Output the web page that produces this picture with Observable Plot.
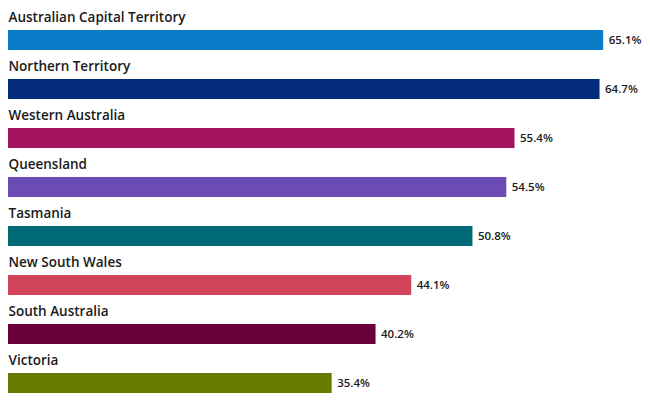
<!DOCTYPE html>
<html>
<head>
<meta charset="utf-8">
<script src="https://cdn.jsdelivr.net/npm/d3@7"></script>
<script src="https://cdn.jsdelivr.net/npm/@observablehq/plot@0.6"></script>
<style>
  html, body { margin: 0; padding: 0; background: #fff; }
  #chart svg { display: block; }
</style>
</head>
<body>
<div id="chart"></div>
<script>
const states = ["Australian Capital Territory", "Northern Territory", "Western Australia", "Queensland", "Tasmania", "New South Wales", "South Australia", "Victoria"];
const values = [65.1, 64.7, 55.4, 54.5, 50.8, 44.1, 40.2, 35.4];
const colors = ["#0a7dc9", "#022b7c", "#a4135f", "#6a4cb4", "#006b74", "#d1445a", "#690039", "#697a00"];

const data = states.map((s, i) => ({state: s, value: values[i], color: colors[i]}));

const chart = Plot.plot({
  width: 650,
  height: 406,
  marginLeft: 8,
  marginRight: 2,
  marginTop: 0,
  marginBottom: 0,
  style: {fontFamily: "Open Sans, sans-serif", color: "#1a1a1a"},
  x: {domain: [0, 70], range: [8, 648], axis: null},
  y: {type: "band", domain: states, range: [28, 395], paddingInner: 0.6, paddingOuter: 0, axis: null},
  marks: [
    Plot.barX(data, {x: "value", y: "state", fill: "color"}),
    Plot.text(data, {x: 0, y: "state", text: "state", textAnchor: "start", dy: -22.5, fontSize: 13.5, fontWeight: 600, fill: "#1a1a1a"}),
    Plot.text(data, {x: "value", y: "state", text: d => d.value.toFixed(1) + "%", textAnchor: "start", dx: 5, fontSize: 11.5, fontWeight: 600, fill: "#1a1a1a"})
  ]
});
document.getElementById("chart").appendChild(chart);
</script>
</body>
</html>
